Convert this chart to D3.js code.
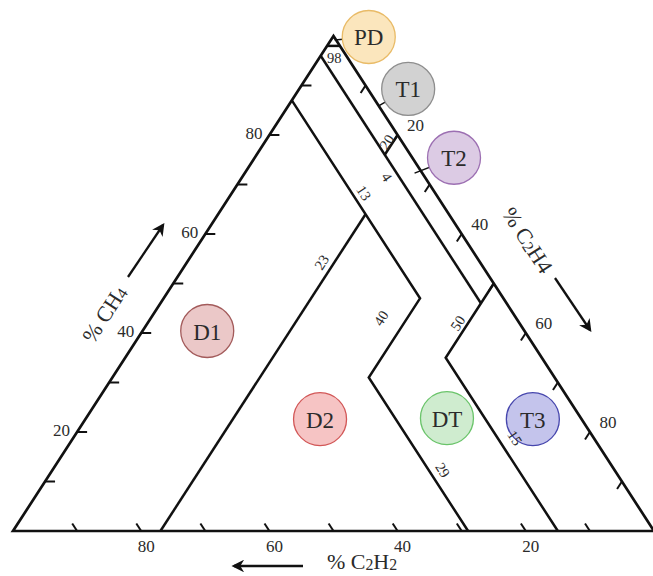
<!DOCTYPE html>
<html>
<head>
<meta charset="utf-8">
<script src="https://cdn.jsdelivr.net/npm/d3@7"></script>
<style>
  body { margin: 0; background: #fff; }
  svg text { font-family: "Liberation Serif", "DejaVu Serif", serif; fill: #2b2b2b; }
</style>
</head>
<body>
<svg id="chart"></svg>
<script>
// every composition is [CH4, C2H4, C2H2] in %
const tickValues = [10, 20, 30, 40, 50, 60, 70, 80, 90];
const tickLabels = [20, 40, 60, 80];

const outline = [[100, 0, 0], [0, 100, 0], [0, 0, 100]];

const boundaries = [
    [[98, 2, 0], [98, 0, 2]],                            // CH4 = 98
    [[96, 0, 4], [46, 50, 4]],                           // C2H2 = 4
    [[80, 20, 0], [76, 20, 4]],                          // C2H4 = 20
    [[50, 50, 0], [35, 50, 15], [0, 85, 15]],            // C2H4 = 50, C2H2 = 15
    [[87, 0, 13], [47, 40, 13], [31, 40, 29], [0, 71, 29]], // C2H2 = 13, C2H4 = 40, C2H2 = 29
    [[0, 23, 77], [64, 23, 13]]                          // C2H4 = 23
];

const boundaryLabels = ['98', '4', '20', '13', '23', '40', '29', '50', '15'];
const zoneNames = ['PD', 'T1', 'T2', 'D1', 'D2', 'DT', 'T3'];

// layout (where things sit, in composition space)
const boundaryLabelPos = {
    '98': { at: [95.6, 2.3], rot: 0 },
    '4':  { at: [71.5, 22.6], rot: 1 },
    '20': { at: [78.6, 19.0], rot: -1 },
    '13': { at: [68.3, 20.6], rot: 1 },
    '23': { at: [54.3, 21.0], rot: -1 },
    '40': { at: [43.0, 35.9], rot: -1 },
    '29': { at: [12.3, 60.9], rot: 1 },
    '50': { at: [42.0, 48.4], rot: -1 },
    '15': { at: [18.8, 68.9], rot: 1 }
};
const zonePos = {
    PD: { at: [99.8, 5.6], from: [99.2, 0.6] },
    T1: { at: [89.3, 17.0], from: [85.9, 14.1] },
    T2: { at: [75.4, 31.1], from: [72.3, 26.5] },
    D1: { at: [40.4, 10.1] },
    D2: { at: [22.6, 36.6] },
    DT: { at: [22.8, 56.3] },
    T3: { at: [22.6, 69.8] }
};
const zoneFill = d3.scaleOrdinal(zoneNames,
    ['#fbe6bd', '#d2d2d2', '#dccbe4', '#ebc8c8', '#f6c4c4', '#cfeccf', '#c4c4ec']);
const zoneStroke = d3.scaleOrdinal(zoneNames,
    ['#e9bb67', '#8e8e8e', '#9c6fb2', '#a35b5b', '#d25757', '#6ac46a', '#4646ad']);

const width = 653, height = 576;

const svg = d3.select('#chart')
    .attr('width', width)
    .attr('height', height);

const xscale = d3.scaleLinear().domain([0, 100]).range([13, 654]);
const yscale = d3.scaleLinear().domain([0, 100]).range([531, 36]);

const px = d => [xscale(d[1] + d[0] / 2), yscale(d[0])];

const top_ = px(outline[0]), br = px(outline[1]), bl = px(outline[2]);
const unit = (a, b) => {
    const dx = b[0] - a[0], dy = b[1] - a[1], l = Math.hypot(dx, dy);
    return [dx / l, dy / l];
};
const upLeft = unit(br, top_);     // along constant C2H2
const downLeft = unit(top_, bl);   // along constant C2H4
const angle = Math.atan2(bl[1] - top_[1], top_[0] - bl[0]) * 180 / Math.PI;

const line = d3.line().x(d => px(d)[0]).y(d => px(d)[1]);

const defs = svg.append('defs');
defs.append('marker')
    .attr('id', 'arrow')
    .attr('viewBox', '0 0 10 10')
    .attr('refX', 8).attr('refY', 5)
    .attr('markerWidth', 5.5).attr('markerHeight', 5.5)
    .attr('orient', 'auto')
    .append('path')
    .attr('d', 'M0,0 L10,5 L0,10 L3,5 Z')
    .attr('fill', '#111');

const chart = svg.append('g');

// boundaries
chart.selectAll('path.boundary')
    .data(boundaries)
    .enter()
    .append('path')
    .attr('class', 'boundary')
    .attr('d', line)
    .attr('fill', 'none')
    .attr('stroke', '#111')
    .attr('stroke-width', 2.5)
    .attr('stroke-linejoin', 'miter');

// outline
chart.append('path')
    .attr('d', line(outline) + 'Z')
    .attr('fill', 'none')
    .attr('stroke', '#111')
    .attr('stroke-width', 2.7)
    .attr('stroke-linejoin', 'miter');

// ticks
const ticks = chart.append('g').attr('stroke', '#111').attr('stroke-width', 2);
tickValues.forEach(v => {
    const l = px([v, 0, 100 - v]);
    ticks.append('line').attr('x1', l[0]).attr('y1', l[1]).attr('x2', l[0] + 10).attr('y2', l[1]);
    const b = px([0, 100 - v, v]);
    ticks.append('line').attr('x1', b[0]).attr('y1', b[1])
        .attr('x2', b[0] + upLeft[0] * 9).attr('y2', b[1] + upLeft[1] * 9);
    const r = px([100 - v, v, 0]);
    ticks.append('line').attr('x1', r[0]).attr('y1', r[1])
        .attr('x2', r[0] + downLeft[0] * 9).attr('y2', r[1] + downLeft[1] * 9);
});

// tick labels
const tl = chart.append('g').attr('font-size', 17);
tickLabels.forEach(v => {
    const l = px([v, 0, 100 - v]);
    tl.append('text').attr('x', l[0] - 7).attr('y', l[1] - 2)
        .attr('text-anchor', 'end').attr('dominant-baseline', 'central').text(v);
    const b = px([0, 100 - v, v]);
    tl.append('text').attr('x', b[0] + 5).attr('y', b[1] + 15)
        .attr('text-anchor', 'middle').attr('dominant-baseline', 'central').text(v);
    const r = px([100 - v, v, 0]);
    tl.append('text').attr('x', r[0] + 18).attr('y', r[1] - 10)
        .attr('text-anchor', 'middle').attr('dominant-baseline', 'central').text(v);
});

// zone pointers
zoneNames.filter(z => zonePos[z].from).forEach(z => {
    const a = px(zonePos[z].from), c = px(zonePos[z].at);
    chart.append('line')
        .attr('x1', a[0]).attr('y1', a[1]).attr('x2', c[0]).attr('y2', c[1])
        .attr('stroke', '#111').attr('stroke-width', 1.5);
});

// zone circles
const zones = chart.selectAll('g.zone')
    .data(zoneNames)
    .enter()
    .append('g')
    .attr('class', 'zone')
    .attr('transform', d => `translate(${px(zonePos[d].at)})`);

zones.append('circle')
    .attr('r', 26.5)
    .attr('fill', d => zoneFill(d))
    .attr('stroke', d => zoneStroke(d))
    .attr('stroke-width', 1.3);

zones.append('text')
    .attr('font-size', 23)
    .attr('text-anchor', 'middle')
    .attr('dominant-baseline', 'central')
    .attr('dy', 1)
    .text(d => d);

// boundary labels (on top of the circles)
chart.selectAll('text.blabel')
    .data(boundaryLabels)
    .enter()
    .append('text')
    .attr('class', 'blabel')
    .attr('font-size', 14.5)
    .attr('text-anchor', 'middle')
    .attr('dominant-baseline', 'central')
    .attr('transform', d => {
        const p = px(boundaryLabelPos[d].at);
        return `translate(${p[0]},${p[1]}) rotate(${boundaryLabelPos[d].rot * angle})`;
    })
    .text(d => d);

// axis titles
const titleFont = 22;
const addTitle = (x, y, rot, parts) => {
    const t = chart.append('text')
        .attr('font-size', titleFont)
        .attr('text-anchor', 'middle')
        .attr('dominant-baseline', 'central')
        .attr('transform', `translate(${x},${y}) rotate(${rot})`);
    parts.forEach(p => {
        t.append('tspan')
            .attr('font-size', p.sub ? titleFont * 0.72 : titleFont)
            .attr('baseline-shift', p.sub ? '-20%' : null)
            .text(p.t);
    });
};
addTitle(104, 314, -angle, [{ t: '% CH' }, { t: '4', sub: true }]);
addTitle(528, 240, angle, [{ t: '% C' }, { t: '2', sub: true }, { t: 'H4' }]);
addTitle(362, 561, 0, [{ t: '% C' }, { t: '2', sub: true }, { t: 'H' }, { t: '2', sub: true }]);

const arrows = [
    [[128, 277], [163, 225]],
    [[555, 278], [590, 330]],
    [[303, 566], [234, 566]]
];
chart.selectAll('line.arrow')
    .data(arrows)
    .enter()
    .append('line')
    .attr('class', 'arrow')
    .attr('x1', d => d[0][0]).attr('y1', d => d[0][1])
    .attr('x2', d => d[1][0]).attr('y2', d => d[1][1])
    .attr('stroke', '#111')
    .attr('stroke-width', 2.3)
    .attr('marker-end', 'url(#arrow)');
</script>
</body>
</html>
